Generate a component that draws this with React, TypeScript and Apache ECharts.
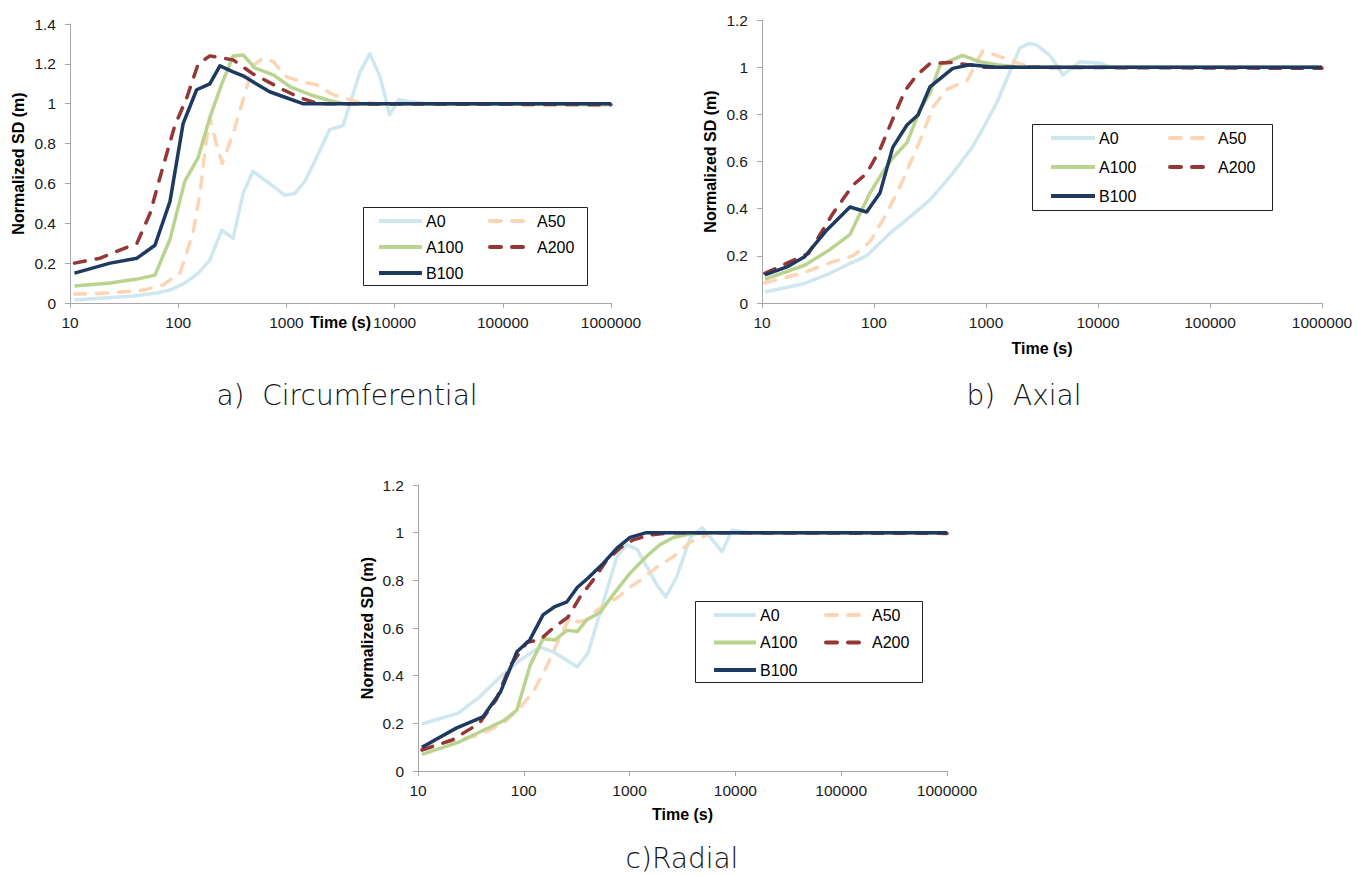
import React, { useEffect, useRef } from "react";
import * as echarts from "echarts";

// ---------- data ----------
const SERIES_NAMES = ["A0", "A50", "A100", "A200", "B100"];
const X_TICKS = [10, 100, 1000, 10000, 100000, 1000000];
const Y_MAX = [1.4, 1.2, 1.2];
const TITLES = ["a)  Circumferential", "b)  Axial", "c)Radial"];

// a) Circumferential
const circA0 = [[11,0.015],[38,0.035],[63,0.05],[84,0.065],[115,0.1],[153,0.15],[196,0.215],[253,0.365],[322,0.325],[398,0.55],[490,0.66],[660,0.61],[970,0.54],[1200,0.55],[1480,0.61],[1900,0.73],[2500,0.87],[3340,0.89],[4800,1.16],[5900,1.25],[7300,1.14],[9000,0.945],[10900,1.02],[13800,1.01],[20000,1.0],[1000000,1.0]];
const circA50 = [[11,0.045],[23.5,0.05],[48,0.065],[72,0.09],[104,0.15],[137,0.35],[159,0.55],[180,0.8],[196,0.93],[225,0.8],[255,0.7],[322,0.85],[398,1.02],[490,1.19],[610,1.23],[757,1.21],[1000,1.135],[1420,1.11],[1900,1.095],[2700,1.045],[4500,1.01],[7000,1.0],[1000000,1.0]];
const circA100 = [[11,0.085],[23.5,0.1],[41.6,0.12],[61,0.14],[84,0.32],[115,0.61],[153,0.73],[196,0.93],[253,1.1],[322,1.24],[398,1.245],[510,1.18],[757,1.145],[1085,1.085],[1660,1.045],[2540,1.015],[3350,1.0],[1000000,0.995]];
const circA200 = [[11,0.2],[19,0.225],[41.6,0.3],[55,0.45],[72,0.68],[93,0.89],[120,1.03],[153,1.2],[196,1.24],[322,1.22],[490,1.15],[935,1.07],[1330,1.03],[2000,1.0],[1000000,0.995]];
const circB100 = [[11,0.15],[23.5,0.2],[41.6,0.225],[61,0.29],[84,0.51],[111,0.9],[148,1.07],[196,1.1],[243,1.19],[322,1.16],[398,1.14],[490,1.11],[700,1.06],[1000,1.03],[1420,1.0],[1000000,1.0]];

// b) Axial
const axA0 = [[10.6,0.047],[24,0.083],[40,0.125],[61,0.168],[86,0.2],[139,0.296],[210,0.365],[316,0.437],[505,0.55],[760,0.663],[940,0.74],[1250,0.85],[1630,0.98],[2000,1.08],[2400,1.1],[2830,1.095],[3720,1.05],[4880,0.967],[6900,1.023],[10500,1.017],[12900,1.0],[1000000,1.0]];
const axA50 = [[10.6,0.085],[24,0.13],[43,0.175],[65,0.2],[92,0.26],[130,0.38],[181,0.52],[258,0.69],[336,0.83],[445,0.905],[680,0.945],[940,1.07],[1330,1.045],[2000,1.015],[2600,1.0],[1000000,1.0]];
const axA100 = [[10.6,0.1],[24,0.16],[40,0.225],[61,0.29],[92,0.466],[118,0.55],[147,0.615],[197,0.68],[258,0.82],[316,0.89],[390,1.01],[620,1.05],[880,1.023],[1250,1.01],[2000,1.0],[1000000,1.0]];
const axA200 = [[10.6,0.126],[26,0.21],[43,0.38],[65,0.5],[86,0.55],[113,0.65],[147,0.78],[189,0.9],[242,0.967],[316,1.015],[505,1.02],[940,1.0],[1000000,0.995]];
const axB100 = [[10.6,0.119],[16.7,0.153],[24,0.196],[38,0.31],[61,0.407],[86,0.386],[113,0.466],[147,0.66],[197,0.755],[247,0.797],[316,0.916],[505,0.995],[716,1.01],[1200,1.0],[1000000,1.0]];

// c) Radial
const radA0 = [[10.9,0.197],[24,0.243],[38,0.31],[60,0.395],[92,0.465],[142,0.52],[189,0.5],[320,0.437],[405,0.495],[525,0.663],[760,0.9],[940,0.95],[1180,0.93],[1820,0.78],[2200,0.73],[2790,0.815],[3750,0.98],[4870,1.02],[7470,0.92],[9300,1.01],[13800,1.0],[1000000,1.0]];
const radA50 = [[10.9,0.1],[23,0.13],[38,0.15],[64,0.2],[92,0.265],[122,0.33],[165,0.44],[206,0.535],[273,0.645],[325,0.625],[400,0.635],[490,0.675],[780,0.73],[1000,0.77],[1260,0.8],[1820,0.856],[2600,0.9],[3750,0.96],[5700,0.995],[7000,1.0],[1000000,1.0]];
const radA100 = [[10.9,0.07],[24,0.12],[41,0.17],[64,0.21],[86,0.255],[114,0.44],[152,0.555],[197,0.55],[256,0.59],[320,0.585],[395,0.635],[525,0.665],[700,0.74],[1010,0.83],[1440,0.9],[1940,0.95],[2600,0.98],[3750,0.995],[6000,1.0],[1000000,1.0]];
const radA200 = [[10.9,0.088],[21,0.13],[38,0.2],[55,0.3],[74,0.44],[107,0.54],[142,0.55],[189,0.6],[261,0.645],[340,0.73],[450,0.8],[610,0.885],[810,0.935],[1080,0.97],[1560,0.99],[2500,1.0],[1000000,0.997]];
const radB100 = [[10.9,0.1],[23,0.18],[41,0.227],[60,0.33],[86,0.5],[114,0.55],[152,0.655],[197,0.69],[256,0.71],[320,0.77],[405,0.81],[560,0.87],[760,0.935],[1010,0.98],[1440,1.0],[1000000,1.0]];

const CHART_DATA = [
  [circA0, circA50, circA100, circA200, circB100],
  [axA0, axA50, axA100, axA200, axB100],
  [radA0, radA50, radA100, radA200, radB100],
];

// ---------- styles / layout ----------
const FONT = "Liberation Sans, Arial, sans-serif";
const TITLE_FONT = "DejaVu Sans";
const COLORS = ["#cfe7ef", "#fcd5b4", "#bad48f", "#953735", "#1f3a60"];
const DASHED = [false, true, false, true, false];
const AXIS_COLOR = "#a6a6a6";

const GRIDS = [
  { left: 70, top: 24, width: 541, height: 279 },
  { left: 762, top: 20, width: 560, height: 283 },
  { left: 418, top: 485, width: 529, height: 286 },
];
const X_NAME_GAP = [11, 37, 35];
const Y_NAME_GAP = [44, 44, 43];
const TITLE_POS = [
  [347, 395],
  [1024, 395],
  [682, 858],
];
const LEGENDS = [
  { box: [363, 207, 224, 78], lx: 377, rx: 488, top: 213, gap: 26, w: 43 },
  { box: [1032, 124, 240, 86], lx: 1049, rx: 1168, top: 130, gap: 29, w: 44 },
  { box: [695, 601, 227, 81], lx: 712, rx: 824, top: 607, gap: 27.5, w: 42 },
];

function buildOption() {
  const grid = GRIDS.map((g) => ({ ...g, containLabel: false }));
  const xAxis = GRIDS.map((_, i) => ({
    type: "log",
    logBase: 10,
    gridIndex: i,
    min: X_TICKS[0],
    max: X_TICKS[X_TICKS.length - 1],
    splitNumber: X_TICKS.length - 1,
    name: "Time (s)",
    nameLocation: "middle",
    nameGap: X_NAME_GAP[i],
    nameMoveOverlap: false,
    nameTextStyle: { fontFamily: FONT, fontWeight: "bold", fontSize: 16, color: "#000" },
    axisLine: { show: true, lineStyle: { color: AXIS_COLOR, width: 1 } },
    axisTick: { show: true, length: 5, lineStyle: { color: AXIS_COLOR } },
    minorTick: { show: false },
    splitLine: { show: false },
    axisLabel: {
      fontFamily: FONT,
      fontSize: 15.5,
      color: "#1a1a1a",
      margin: 11,
      formatter: (v: number) => String(Math.round(v)),
    },
  }));
  const yAxis = GRIDS.map((_, i) => ({
    type: "value",
    gridIndex: i,
    min: 0,
    max: Y_MAX[i],
    interval: 0.2,
    name: "Normalized SD (m)",
    nameLocation: "middle",
    nameGap: Y_NAME_GAP[i],
    nameMoveOverlap: false,
    nameTextStyle: { fontFamily: FONT, fontWeight: "bold", fontSize: 16, color: "#000" },
    axisLine: { show: true, lineStyle: { color: AXIS_COLOR, width: 1 } },
    axisTick: { show: true, length: 5, lineStyle: { color: AXIS_COLOR } },
    splitLine: { show: false },
    axisLabel: {
      fontFamily: FONT,
      fontSize: 15.5,
      color: "#1a1a1a",
      margin: 14,
      formatter: (v: number) => String(Math.round(v * 10) / 10),
    },
  }));
  const series: any[] = [];
  CHART_DATA.forEach((set, ci) => {
    set.forEach((data, si) => {
      series.push({
        type: "line",
        name: SERIES_NAMES[si],
        xAxisIndex: ci,
        yAxisIndex: ci,
        data,
        symbol: "none",
        showSymbol: false,
        smooth: false,
        z: 2 + si,
        lineStyle: {
          color: COLORS[si],
          width: 3.5,
          type: DASHED[si] ? [11, 11] : "solid",
          cap: DASHED[si] ? "round" : "butt",
          join: "round",
        },
        itemStyle: { color: COLORS[si] },
        emphasis: { disabled: true },
      });
    });
  });
  const legend: any[] = [];
  LEGENDS.forEach((L) => {
    const common = {
      orient: "vertical",
      top: L.top,
      itemWidth: L.w,
      itemHeight: 16,
      itemGap: L.gap - 16,
      selectedMode: false,
      padding: 0,
      itemStyle: { opacity: 0 },
      lineStyle: { width: 4 },
      textStyle: { fontFamily: FONT, fontSize: 16, color: "#000", lineHeight: 16, padding: [0, 0, 0, -1] },
    };
    legend.push({ ...common, left: L.lx, data: [SERIES_NAMES[0], SERIES_NAMES[2], SERIES_NAMES[4]] });
    legend.push({ ...common, left: L.rx, data: [SERIES_NAMES[1], SERIES_NAMES[3]] });
  });
  const graphic: any[] = [];
  LEGENDS.forEach((L) => {
    graphic.push({
      type: "rect",
      z: 1,
      shape: { x: L.box[0] + 0.5, y: L.box[1] + 0.5, width: L.box[2], height: L.box[3] },
      style: { fill: "#fff", stroke: "#222", lineWidth: 1 },
    });
  });
  TITLES.forEach((t, i) => {
    graphic.push({
      type: "text",
      x: TITLE_POS[i][0],
      y: TITLE_POS[i][1],
      style: {
        text: t,
        fontFamily: TITLE_FONT,
        fontWeight: 200,
        fontSize: 28,
        fill: "#111",
        align: "center",
        verticalAlign: "middle",
      },
    });
  });
  return {
    animation: false,
    backgroundColor: "#fff",
    grid,
    xAxis,
    yAxis,
    series,
    legend,
    graphic,
  };
}

export default function App() {
  const ref = useRef<HTMLDivElement>(null);
  useEffect(() => {
    if (!ref.current) return;
    const chart = echarts.init(ref.current, null, { renderer: "svg" });
    chart.setOption(buildOption() as any);
    return () => chart.dispose();
  }, []);
  return (
    <div
      ref={ref}
      style={{ position: "fixed", left: 0, top: 0, width: 1358, height: 875, background: "#fff" }}
    />
  );
}
